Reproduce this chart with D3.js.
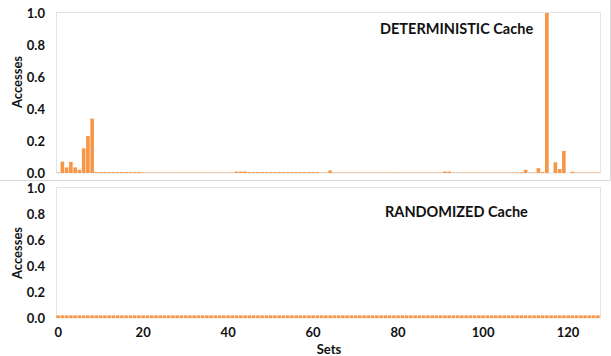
<!DOCTYPE html>
<html>
<head>
<meta charset="utf-8">
<script src="https://cdn.jsdelivr.net/npm/d3@7"></script>
<style>
  body { margin: 0; background: #fff; }
  text { font-family: Lato, "Open Sans", sans-serif; font-weight: bold; fill: #111; }
</style>
</head>
<body>
<svg id="chart" width="611" height="356"></svg>
<script>
// Sets 0..127 on the x axis
var sets = d3.range(0, 128);
var xTicks = [0, 20, 40, 60, 80, 100, 120];
var yTicks = [0, 0.2, 0.4, 0.6, 0.8, 1.0];

// accesses per set, deterministic cache
var detValues = [
  0.003, 0.071, 0.035, 0.069, 0.035, 0.021, 0.154, 0.231, 0.34, 0.006, 0.006, 0.006, 0.006, 0.006, 0.006, 0.006,
  0.006, 0.006, 0.006, 0.006, 0.003, 0.003, 0.003, 0.003, 0.003, 0.003, 0.003, 0.003, 0.003, 0.003, 0.003, 0.003,
  0.003, 0.003, 0.003, 0.003, 0.003, 0.003, 0.003, 0.003, 0.003, 0.003, 0.009, 0.009, 0.009, 0.006, 0.006, 0.006,
  0.006, 0.006, 0.006, 0.006, 0.006, 0.006, 0.006, 0.006, 0.006, 0.006, 0.006, 0.006, 0.006, 0.006, 0.003, 0.003,
  0.016, 0.003, 0.003, 0.003, 0.003, 0.003, 0.003, 0.003, 0.003, 0.003, 0.003, 0.003, 0.003, 0.003, 0.003, 0.003,
  0.003, 0.003, 0.003, 0.003, 0.003, 0.003, 0.003, 0.003, 0.003, 0.003, 0.003, 0.009, 0.009, 0.003, 0.003, 0.003,
  0.003, 0.003, 0.003, 0.003, 0.003, 0.003, 0.003, 0.003, 0.003, 0.003, 0.003, 0.003, 0.004, 0.005, 0.02, 0.003,
  0.003, 0.03, 0.006, 1.0, 0.0, 0.067, 0.025, 0.138, 0.0, 0.008, 0.003, 0.003, 0.003, 0.003, 0.003, 0.003
];

// accesses per set, randomized cache
var randValues = [
  0.02, 0.02, 0.02, 0.02, 0.02, 0.02, 0.02, 0.02, 0.02, 0.02, 0.02, 0.02, 0.02, 0.02, 0.02, 0.02,
  0.02, 0.02, 0.02, 0.02, 0.02, 0.02, 0.02, 0.02, 0.02, 0.02, 0.02, 0.02, 0.02, 0.02, 0.02, 0.02,
  0.02, 0.02, 0.02, 0.02, 0.02, 0.02, 0.02, 0.02, 0.02, 0.02, 0.02, 0.02, 0.02, 0.02, 0.02, 0.02,
  0.02, 0.02, 0.02, 0.02, 0.02, 0.02, 0.02, 0.02, 0.02, 0.02, 0.02, 0.02, 0.02, 0.02, 0.02, 0.02,
  0.02, 0.02, 0.02, 0.02, 0.02, 0.02, 0.02, 0.02, 0.02, 0.02, 0.02, 0.02, 0.02, 0.02, 0.02, 0.02,
  0.02, 0.02, 0.02, 0.02, 0.02, 0.02, 0.02, 0.02, 0.02, 0.02, 0.02, 0.02, 0.02, 0.02, 0.02, 0.02,
  0.02, 0.02, 0.02, 0.02, 0.02, 0.02, 0.02, 0.02, 0.02, 0.02, 0.02, 0.02, 0.02, 0.02, 0.02, 0.02,
  0.02, 0.02, 0.02, 0.02, 0.02, 0.02, 0.02, 0.02, 0.02, 0.02, 0.02, 0.02, 0.02, 0.02, 0.02, 0.02
];

var titles = ["DETERMINISTIC Cache", "RANDOMIZED Cache"];

var svg = d3.select("#chart");
var barColor = "#f79646";
var borderColor = "#e4e4e4";

// shared x scale (band per set)
var x = d3.scaleBand()
    .domain(sets)
    .range([56, 600])
    .paddingInner(0.15)
    .paddingOuter(0.08);

// outer frame of the upper chart
svg.append("path")
    .attr("d", "M0,180.5H610.5V0")
    .attr("fill", "none")
    .attr("stroke", "#d9d9d9");

// panel settings: top and bottom plot areas
var panels = [
  {values: detValues, top: 13, bottom: 173, title: titles[0], titleX: 380, titleY: 34, labelY: 82},
  {values: randValues, top: 188, bottom: 318, title: titles[1], titleX: 385, titleY: 217, labelY: 253}
];

panels.forEach(function(p) {
    var y = d3.scaleLinear().domain([0, 1]).range([p.bottom, p.top]);
    var g = svg.append("g");

    // plot area border
    g.append("rect")
        .attr("x", 56.5)
        .attr("y", p.top - 0.5)
        .attr("width", 544)
        .attr("height", p.bottom - p.top + 0.5)
        .attr("fill", "none")
        .attr("stroke", borderColor);

    // y axis labels only
    var yAxis = d3.axisLeft(y)
        .tickValues(yTicks)
        .tickFormat(d3.format(".1f"))
        .tickSize(0)
        .tickPadding(0);
    g.append("g")
        .attr("transform", "translate(45,0)")
        .call(yAxis)
        .call(function(s) { s.select(".domain").remove(); })
        .selectAll("text")
        .style("font-family", "Lato, sans-serif")
        .style("font-weight", "bold")
        .style("font-size", "13px")
        .attr("fill", "#111");

    // bars
    g.selectAll("rect.bar")
        .data(p.values)
        .enter().append("rect")
        .attr("class", "bar")
        .attr("x", function(d, i) { return x(sets[i]); })
        .attr("width", x.bandwidth())
        .attr("y", function(d) { return y(d); })
        .attr("height", function(d) { return p.bottom - y(d); })
        .attr("fill", barColor);

    // axis title
    g.append("text")
        .attr("transform", "translate(22," + p.labelY + ") rotate(-90)")
        .attr("text-anchor", "middle")
        .style("font-size", "13px")
        .text("Accesses");

    // chart title
    g.append("text")
        .attr("x", p.titleX)
        .attr("y", p.titleY)
        .style("font-size", "14.5px")
        .text(p.title);
});

// x axis under the bottom panel
var xAxis = d3.axisBottom(x)
    .tickValues(xTicks)
    .tickSize(0)
    .tickPadding(0);
svg.append("g")
    .attr("transform", "translate(0,328)")
    .call(xAxis)
    .call(function(s) { s.select(".domain").remove(); })
    .selectAll("text")
    .style("font-family", "Lato, sans-serif")
    .style("font-weight", "bold")
    .style("font-size", "13px")
    .attr("fill", "#111");

svg.append("text")
    .attr("x", 329)
    .attr("y", 354)
    .attr("text-anchor", "middle")
    .style("font-size", "13px")
    .text("Sets");
</script>
</body>
</html>
